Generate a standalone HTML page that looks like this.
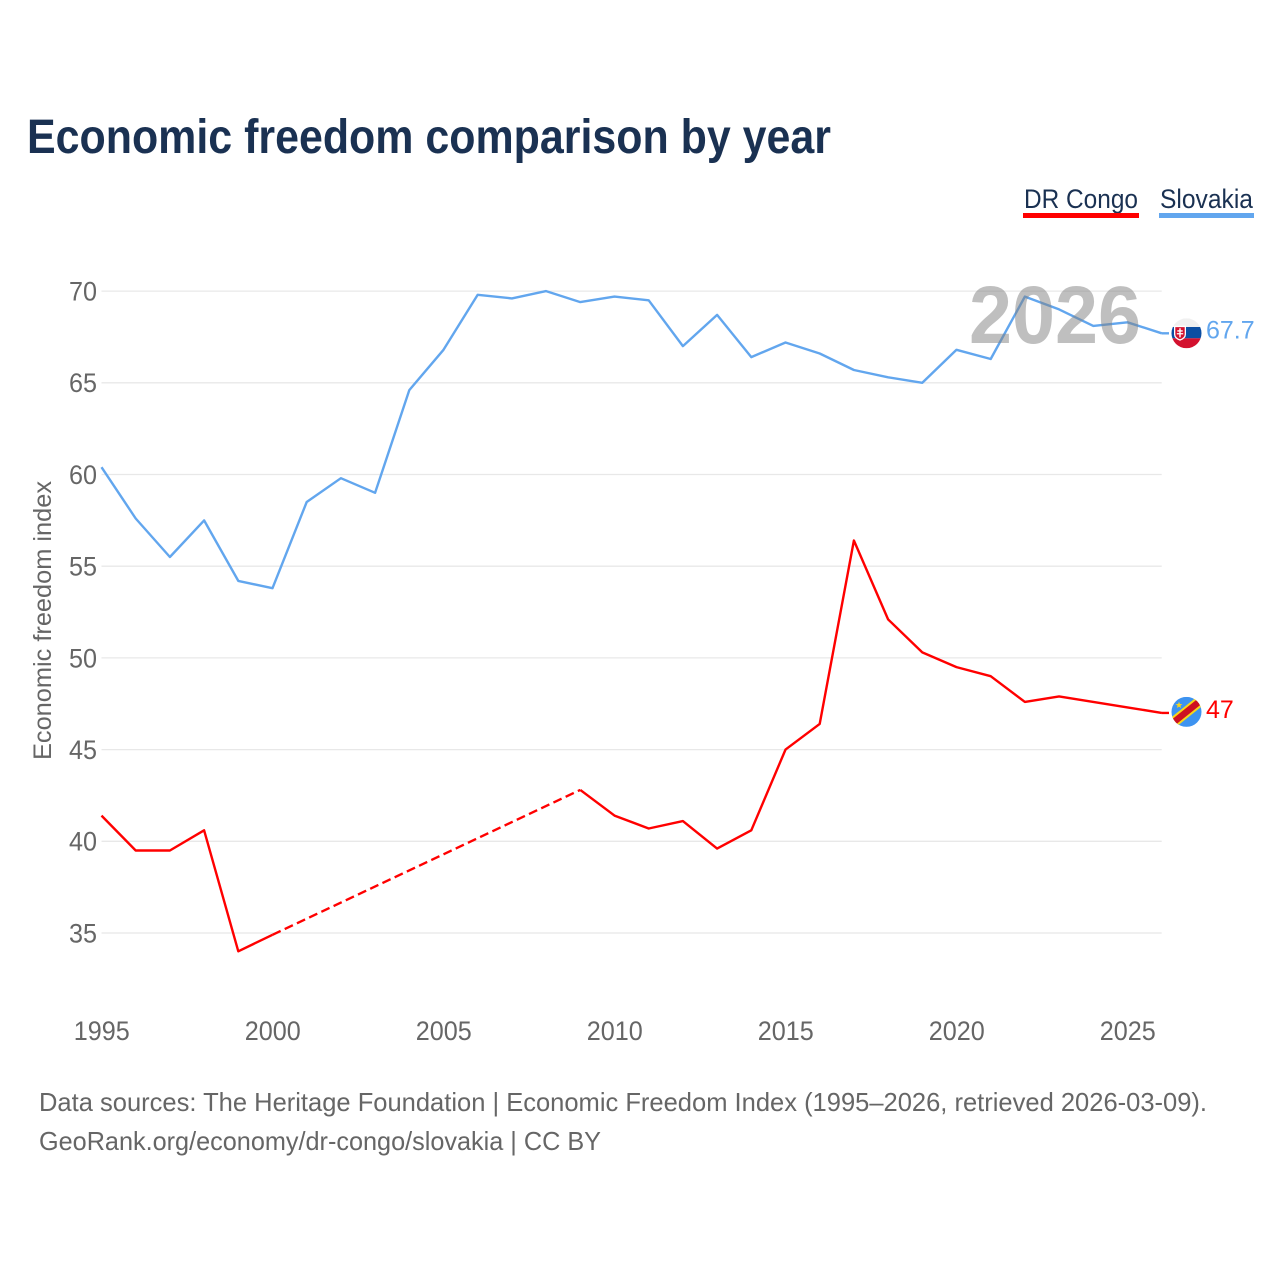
<!DOCTYPE html>
<html lang="en">
<head>
<meta charset="utf-8">
<title>Economic freedom comparison by year</title>
<style>
html,body{margin:0;padding:0;background:#fff}
svg{display:block}
text{font-family:"Liberation Sans",sans-serif}
</style>
</head>
<body>
<svg id="chart" xmlns="http://www.w3.org/2000/svg" width="1280" height="1280" viewBox="0 0 1280 1280">
  <rect width="1280" height="1280" fill="#fff"/>
  <text x="27" y="153" font-size="48" font-weight="700" fill="#1a3152" textLength="804" lengthAdjust="spacingAndGlyphs">Economic freedom comparison by year</text>

  <g>
    <g>
      <text x="1024" y="208" font-size="27" fill="#1a3152" textLength="114" lengthAdjust="spacingAndGlyphs">DR Congo</text>
      <rect x="1023" y="213" width="116" height="5" fill="#ff0000"/>
    </g>
    <g>
      <text x="1160" y="208" font-size="27" fill="#1a3152" textLength="93" lengthAdjust="spacingAndGlyphs">Slovakia</text>
      <rect x="1159" y="213" width="95" height="5" fill="#62a6ee"/>
    </g>
  </g>

  <g id="grid"></g>
  <g id="yticks"></g>
  <g id="xticks"></g>
  <text transform="translate(51 620.5) rotate(-90)" text-anchor="middle" font-size="25" fill="#666" textLength="279" lengthAdjust="spacingAndGlyphs">Economic freedom index</text>

  <g id="series"></g>
  <text x="969" y="343" font-size="82" font-weight="700" fill="#808080" fill-opacity="0.5" textLength="172" lengthAdjust="spacingAndGlyphs">2026</text>

  <defs>
    <clipPath id="clip-sk"><circle cx="1186.500" cy="333" r="15"/></clipPath>
    <clipPath id="clip-cd"><circle cx="1186.500" cy="713" r="15"/></clipPath>
  </defs>

  <g id="flag-sk">
    <g clip-path="url(#clip-sk)">
      <rect x="1171" y="318" width="31" height="9" fill="#f0f0f0"/>
      <rect x="1171" y="326.700" width="31" height="11.300" fill="#0b4ea2"/>
      <rect x="1171" y="338" width="31" height="10" fill="#d3112e"/>
      <path d="M1174 325.500h12v8.500q0 4.500-6 6.500q-6-2-6-6.500z" fill="#fff"/>
      <path d="M1175.300 326.800h9.400v7q0 3.500-4.700 5.200q-4.700-1.700-4.700-5.200z" fill="#d3112e"/>
      <path d="M1179.300 328h1.400v2h2v1.300h-2v1.500h2.500v1.300h-2.500v3h-1.400v-3h-2.500v-1.300h2.500v-1.500h-2v-1.300h2z" fill="#fff"/>
    </g>
  </g>
  <g id="flag-cd">
    <g clip-path="url(#clip-cd)">
      <rect x="1171" y="698" width="31" height="30" fill="#3d93f0"/>
      <path d="M1166.500 729L1206.500 697" stroke="#f7d618" stroke-width="10.500"/>
      <path d="M1166.500 729L1206.500 697" stroke="#ce1021" stroke-width="6.500"/>
      <path d="M1179 702.800l.9 2.300 2.500.1-2 1.500.7 2.400-2.100-1.400-2.100 1.400.7-2.400-2-1.500 2.500-.1z" fill="#f7d618"/>
    </g>
  </g>
  <g id="end-labels"></g>

  <text x="39" y="1111" font-size="26" fill="#666" textLength="1168" lengthAdjust="spacingAndGlyphs">Data sources: The Heritage Foundation | Economic Freedom Index (1995–2026, retrieved 2026-03-09).</text>
  <text x="39" y="1150" font-size="26" fill="#666" textLength="562" lengthAdjust="spacingAndGlyphs">GeoRank.org/economy/dr-congo/slovakia | CC BY</text>
</svg>
<script>
const years = [1995,1996,1997,1998,1999,2000,2001,2002,2003,2004,2005,2006,2007,2008,2009,2010,2011,2012,2013,2014,2015,2016,2017,2018,2019,2020,2021,2022,2023,2024,2025,2026];
const slovakiaValues = [60.4,57.6,55.5,57.5,54.2,53.8,58.5,59.8,59.0,64.6,66.8,69.8,69.6,70.0,69.4,69.7,69.5,67.0,68.7,66.4,67.2,66.6,65.7,65.3,65.0,66.8,66.3,69.7,69.0,68.1,68.3,67.7];
const drCongoValues = [41.4,39.5,39.5,40.6,34.0,34.9,null,null,null,null,null,null,null,null,42.8,41.4,40.7,41.1,39.6,40.6,45.0,46.4,56.4,52.1,50.3,49.5,49.0,47.6,47.9,47.6,47.3,47.0];
const yTickLabels = [35,40,45,50,55,60,65,70];
const xTickLabels = [1995,2000,2005,2010,2015,2020,2025];

const NS = 'http://www.w3.org/2000/svg';
const xScale = v => 101.5 + (v - 1995) * 34.2;
const yScale = v => 291.1 + (70 - v) * 18.34;
const PLOT_RIGHT = xScale(2026);

function make(tag, parent, attrs, text) {
  const el = document.createElementNS(NS, tag);
  for (const k in attrs) el.setAttribute(k, attrs[k]);
  if (text !== undefined) el.textContent = text;
  parent.appendChild(el);
  return el;
}

const gridG = document.getElementById('grid');
const yG = document.getElementById('yticks');
yTickLabels.forEach(t => {
  const line = make('line', gridG, {x1: xScale(1995), x2: PLOT_RIGHT, y1: yScale(t), y2: yScale(t), stroke: '#e8e8e8', 'stroke-width': 1.3});
  
  
  const label = make('text', yG, {x: 97, y: yScale(t) + 9.4, 'text-anchor': 'end', 'font-size': 26.5, fill: '#666', textLength: 28, lengthAdjust: 'spacingAndGlyphs'}, String(t));
  
  
});

const xG = document.getElementById('xticks');
xTickLabels.forEach(t => {
  const label = make('text', xG, {x: xScale(t) + 0.3, y: 1040, 'text-anchor': 'middle', 'font-size': 26.5, fill: '#666', textLength: 56, lengthAdjust: 'spacingAndGlyphs'}, String(t));
  
  
});

function drawSeries(name, values, color) {
  const g = document.getElementById('series');
  let solid = '';
  let dashed = '';
  let prev = -1;
  values.forEach((v, i) => {
    if (v === null) return;
    const p = xScale(years[i]).toFixed(1) + ' ' + yScale(v).toFixed(1);
    if (prev === i - 1 && prev >= 0) {
      solid += 'L' + p;
    } else {
      solid += 'M' + p;
      if (prev >= 0) {
        dashed += 'M' + xScale(years[prev]).toFixed(1) + ' ' + yScale(values[prev]).toFixed(1) + 'L' + p;
      }
    }
    prev = i;
  });
  const lastY = yScale(values[values.length - 1]);
  solid += 'M' + PLOT_RIGHT.toFixed(1) + ' ' + lastY.toFixed(1) + 'H1169';
  const line = make('path', g, {d: solid, fill: 'none', stroke: color, 'stroke-width': 2.4, 'stroke-linejoin': 'round'});
  
  
  if (dashed) {
    const gap = make('path', g, {d: dashed, fill: 'none', stroke: color, 'stroke-width': 2.4, 'stroke-dasharray': '9 4.5'});
    
    
  }
}
drawSeries('dr-congo', drCongoValues, '#ff0000');
drawSeries('slovakia', slovakiaValues, '#62a6ee');

const endG = document.getElementById('end-labels');
function endLabel(name, values, color) {
  const v = values[values.length - 1];
  const label = make('text', endG, {x: 1206, y: yScale(v) + 5, 'font-size': 25, fill: color}, String(v));
  
  
}
endLabel('dr-congo', drCongoValues, '#ff0000');
endLabel('slovakia', slovakiaValues, '#62a6ee');

document.getElementById('flag-sk').setAttribute('transform', 'translate(0 ' + (yScale(slovakiaValues[slovakiaValues.length - 1]) - 333).toFixed(1) + ')');
document.getElementById('flag-cd').setAttribute('transform', 'translate(0 ' + (yScale(drCongoValues[drCongoValues.length - 1]) - 714).toFixed(1) + ')');
</script>
</body>
</html>
